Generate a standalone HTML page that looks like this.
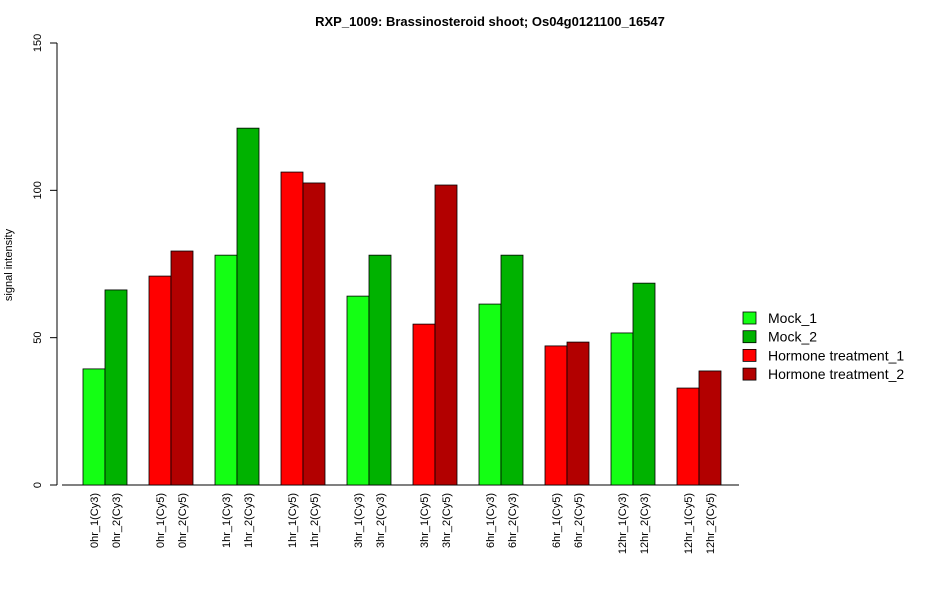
<!DOCTYPE html>
<html><head><meta charset="utf-8"><style>body{margin:0;background:#fff}svg text{font-family:"Liberation Sans",Arial,sans-serif}</style></head>
<body>
<svg id="chart" width="950" height="600" xmlns="http://www.w3.org/2000/svg">
<text x="490" y="26" text-anchor="middle" font-size="13" font-weight="bold">RXP_1009: Brassinosteroid shoot; Os04g0121100_16547</text>
<text transform="translate(12,265) rotate(-90)" text-anchor="middle" font-size="11">signal intensity</text>
<g id="yaxis"></g>
<g id="bars"></g>
<g id="xlabels"></g>
<g id="legend"></g>
</svg>
<script>
const categories=["0hr_1(Cy3)","0hr_2(Cy3)","0hr_1(Cy5)","0hr_2(Cy5)","1hr_1(Cy3)","1hr_2(Cy3)","1hr_1(Cy5)","1hr_2(Cy5)","3hr_1(Cy3)","3hr_2(Cy3)","3hr_1(Cy5)","3hr_2(Cy5)","6hr_1(Cy3)","6hr_2(Cy3)","6hr_1(Cy5)","6hr_2(Cy5)","12hr_1(Cy3)","12hr_2(Cy3)","12hr_1(Cy5)","12hr_2(Cy5)"];
const values=[39.4,66.2,70.9,79.4,78,121.1,106.2,102.5,64.1,78,54.6,101.8,61.4,78,47.2,48.5,51.6,68.5,32.9,38.7];
const seriesIndex=[0,1,2,3,0,1,2,3,0,1,2,3,0,1,2,3,0,1,2,3];
const seriesNames=["Mock_1","Mock_2","Hormone treatment_1","Hormone treatment_2"];
const yTicks=[0,50,100,150];
const colors=["#14ff14","#00b200","#ff0000","#b20000"];
const NS="http://www.w3.org/2000/svg";
const y=v=>485-v*(442/150);
const x=i=>83+Math.floor(i/2)*66+(i%2)*22;
function mk(tag,attrs,parent){const e=document.createElementNS(NS,tag);for(const k in attrs)e.setAttribute(k,attrs[k]);parent.appendChild(e);return e;}
const ya=document.getElementById('yaxis');
mk('line',{x1:57,x2:57,y1:y(0),y2:y(150),stroke:'#000'},ya);
yTicks.forEach(t=>{mk('line',{x1:50,x2:57,y1:y(t),y2:y(t),stroke:'#000'},ya);
const tx=mk('text',{transform:`translate(41,${y(t)}) rotate(-90)`,'text-anchor':'middle','font-size':11},ya);


tx.textContent=t;});
const bg=document.getElementById('bars');
mk('line',{x1:62,x2:739,y1:485,y2:485,stroke:'#000'},bg);
const xl=document.getElementById('xlabels');
values.forEach((v,i)=>{
const r=mk('rect',{x:x(i),y:y(v),width:22,height:485-y(v),fill:colors[seriesIndex[i]],stroke:'#000','stroke-width':0.8},bg);


const t=mk('text',{transform:`translate(${x(i)+15},493) rotate(-90)`,'text-anchor':'end','font-size':11},xl);


t.textContent=categories[i];});
const lg=document.getElementById('legend');
seriesNames.forEach((n,k)=>{const yy=318+k*18.7;
const r=mk('rect',{x:743,y:yy-6,width:13,height:12,fill:colors[k],stroke:'#000','stroke-width':0.8},lg);


const t=mk('text',{x:768,y:yy+5,'font-size':14},lg);


t.textContent=n;});
</script>
</body></html>
